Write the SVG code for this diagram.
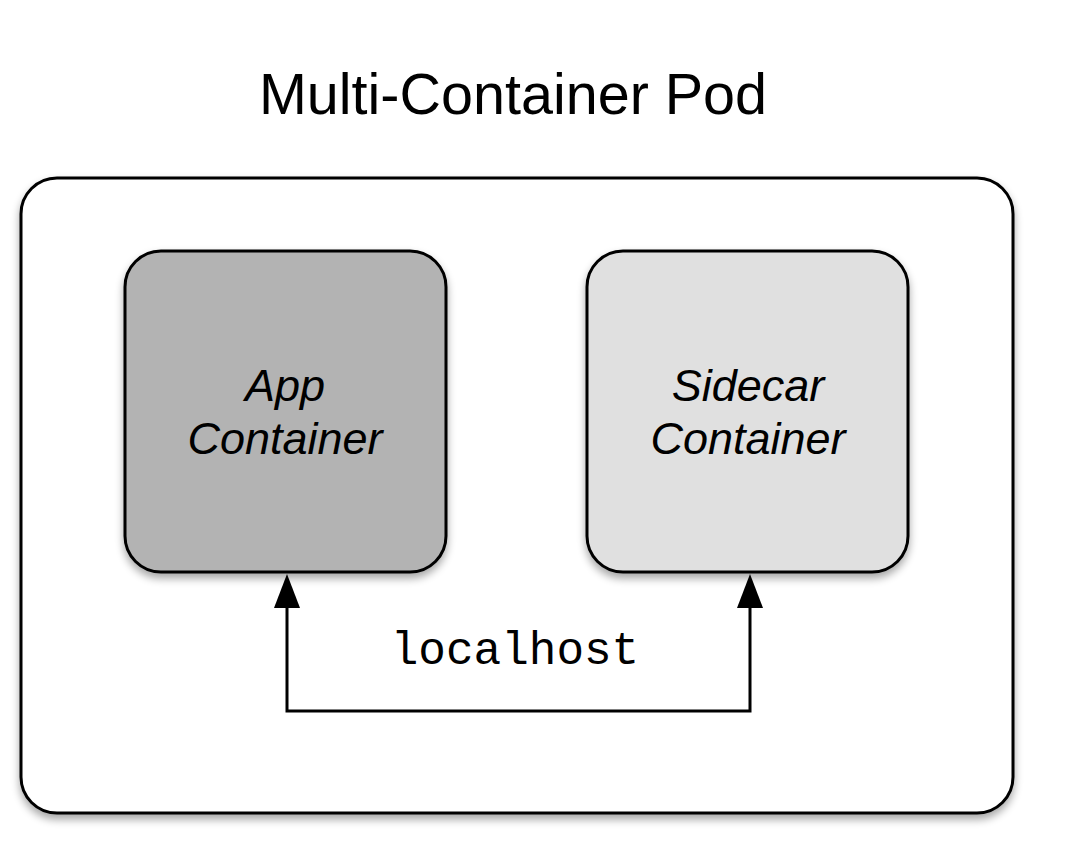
<svg xmlns="http://www.w3.org/2000/svg" width="1070" height="846" viewBox="0 0 1070 846">
<defs>
<filter id="sh" x="-10%" y="-10%" width="120%" height="125%">
<feGaussianBlur in="SourceAlpha" stdDeviation="4"/>
<feOffset dx="0" dy="5" result="b"/>
<feComponentTransfer><feFuncA type="linear" slope="0.35"/></feComponentTransfer>
<feMerge><feMergeNode/><feMergeNode in="SourceGraphic"/></feMerge>
</filter>
<style>
.box{stroke:#000;stroke-width:3}
.lbl{font-family:"Liberation Sans",Arial,sans-serif;font-style:italic;font-size:45px;text-anchor:middle;fill:#000}
.conn{fill:none;stroke:#000;stroke-width:3}
.head{fill:#000}
</style>
</defs>
<rect width="1070" height="846" fill="#fff"/>
<text x="513" y="114" font-family="Liberation Sans, Arial, sans-serif" font-size="57.5" text-anchor="middle">Multi-Container Pod</text>
<g id="pod">
<rect class="box" x="21" y="178" width="992" height="635" rx="36" fill="#fff" filter="url(#sh)"/>
</g>
<g id="app">
<rect class="box" x="125" y="251" width="321" height="321" rx="36" fill="#b3b3b3" filter="url(#sh)"/>
<text class="lbl" x="285" y="401">App</text>
<text class="lbl" x="285" y="454">Container</text>
</g>
<g id="sidecar">
<rect class="box" x="587" y="251" width="321" height="321" rx="36" fill="#e0e0e0" filter="url(#sh)"/>
<text class="lbl" x="748" y="401">Sidecar</text>
<text class="lbl" x="748" y="454">Container</text>
</g>
<g id="connectors">
<path class="conn" d="M287,608 L287,711 L750,711 L750,608"/>
<path class="head" d="M274,608 L287,574 L300,608 Z"/>
<path class="head" d="M737,608 L750,574 L763,608 Z"/>
<text x="515" y="664" font-family="Liberation Mono, Courier New, monospace" font-size="46" text-anchor="middle">localhost</text>
</g>
</svg>
